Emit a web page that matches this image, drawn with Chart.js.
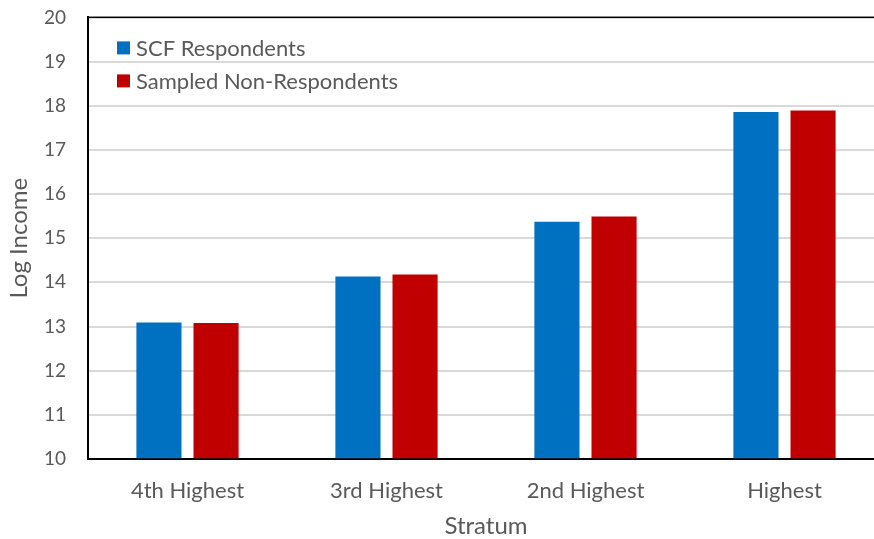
<!DOCTYPE html>
<html>
<head>
<meta charset="utf-8">
<script src="https://cdn.jsdelivr.net/npm/chart.js@4/dist/chart.umd.min.js"></script>
<style>
  html, body { margin: 0; padding: 0; background: #fff; overflow: hidden; }
  #wrap { width: 874px; height: 539px; overflow: hidden; }
  /* the plot runs past the right edge in the original, and the top label hugs the edge */
  #strataChart { display: block; margin-top: -16px; }
</style>
</head>
<body>
<div id="wrap"><canvas id="strataChart" width="884" height="555"></canvas></div>
<script>
const strata = ["4th Highest", "3rd Highest", "2nd Highest", "Highest"];
const respondents = [13.09, 14.13, 15.37, 17.86];
const nonRespondents = [13.08, 14.18, 15.49, 17.89];
const yTicks = [10, 11, 12, 13, 14, 15, 16, 17, 18, 19, 20];

const FONT = "Lato, 'Open Sans', sans-serif";
const GREY = "#595959";

// legend sits inside the plot, top left, like the Excel original
const innerLegend = {
    id: "innerLegend",
    afterDraw(chart) {
        const ctx = chart.ctx;
        const area = chart.chartArea;
        ctx.save();
        // frame round the plot area
        ctx.strokeStyle = "#000";
        ctx.lineWidth = 1.5;
        ctx.strokeRect(area.left, area.top, area.right - area.left, area.bottom - area.top);
        ctx.font = "22px " + FONT;
        ctx.textBaseline = "middle";
        chart.data.datasets.forEach((ds, i) => {
            const y = area.top + 31 + i * 33;
            ctx.fillStyle = ds.backgroundColor;
            ctx.fillRect(area.left + 29, y - 7, 13, 13);
            ctx.fillStyle = GREY;
            ctx.fillText(ds.label, area.left + 48, y + 1);
        });
        ctx.restore();
    }
};

const ctx = document.getElementById("strataChart").getContext("2d");
new Chart(ctx, {
    type: "bar",
    data: {
        labels: strata,
        datasets: [
            {
                label: "SCF Respondents",
                data: respondents,
                backgroundColor: "#0070C0",
                categoryPercentage: 0.574,
                barPercentage: 0.79
            },
            {
                label: "Sampled Non-Respondents",
                data: nonRespondents,
                backgroundColor: "#C00000",
                categoryPercentage: 0.574,
                barPercentage: 0.79
            }
        ]
    },
    options: {
        responsive: false,
        animation: false,
        layout: { padding: 0 },
        plugins: {
            legend: { display: false },
            tooltip: { enabled: false }
        },
        scales: {
            x: {
                grid: { display: false },
                border: { color: "#000", width: 2 },
                ticks: { color: GREY, font: { family: FONT, size: 22 }, padding: 11 },
                title: { display: true, text: "Stratum", color: GREY, font: { family: FONT, size: 24 }, padding: { top: 0, bottom: -2 } },
                afterFit(scale) { scale.height = 80; }
            },
            y: {
                min: 10,
                max: 20,
                afterBuildTicks(scale) { scale.ticks = yTicks.map(v => ({ value: v })); },
                grid: { color: "#d9d9d9", lineWidth: 2, drawTicks: false },
                border: { color: "#000", width: 2 },
                ticks: { color: GREY, font: { family: FONT, size: 19 }, padding: 22 },
                title: { display: true, text: "Log Income", color: GREY, font: { family: FONT, size: 24 }, padding: { top: 5, bottom: 2 } },
                afterFit(scale) { scale.width = 88; }
            }
        }
    },
    plugins: [innerLegend]
});
</script>
</body>
</html>
